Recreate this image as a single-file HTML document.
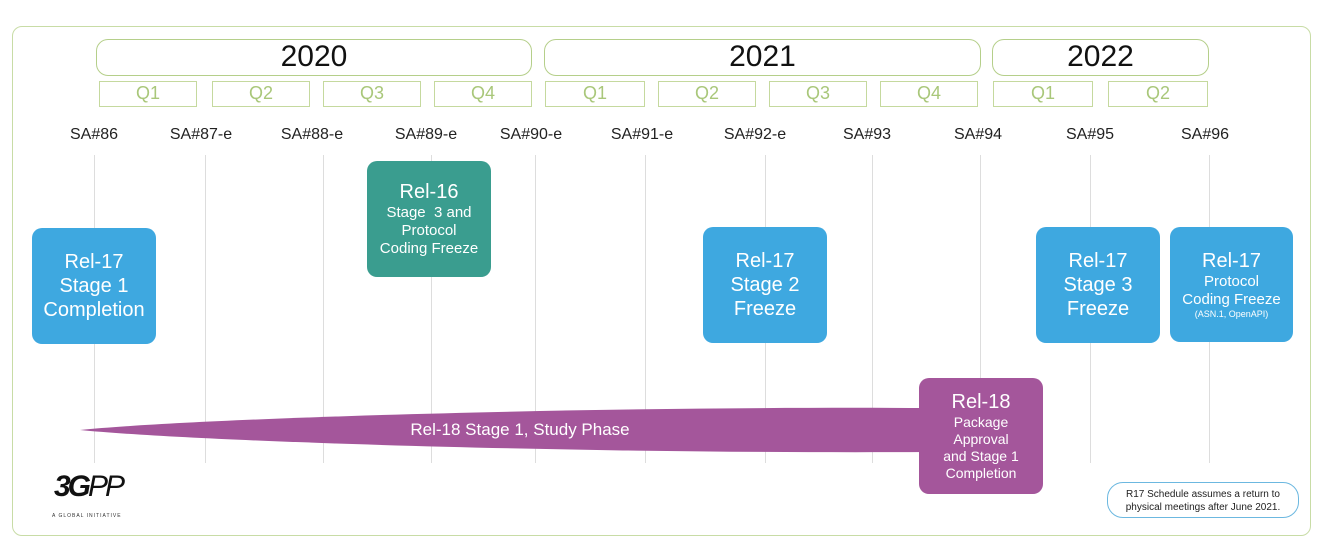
<!DOCTYPE html>
<html><head><style>
body{margin:0;width:1326px;height:554px;background:#fff;font-family:"Liberation Sans",sans-serif;position:relative;overflow:hidden}
.a{position:absolute;box-sizing:border-box}
.yr{border:1.5px solid #b5cf8a;border-radius:12px;text-align:center;font-size:30px;color:#111;line-height:34px}
.q{border:1.5px solid #c5d99e;text-align:center;font-size:18px;color:#a9c77a;line-height:23px}
.sa{font-size:16px;color:#222;width:100px;text-align:center;top:126px}
.vl{width:1px;background:#ddd;top:155px;height:308px}
.bx{border-radius:10px;color:#fff;text-align:center;display:flex;flex-direction:column;justify-content:center;line-height:1.2}
.blue{background:#3ea8e0}
</style></head><body>
<div class="a" style="left:12px;top:26px;width:1299px;height:510px;border:1.5px solid #c8dca6;border-radius:10px"></div>
<div class="a yr" style="left:96px;top:39px;width:436px;height:37px">2020</div>
<div class="a yr" style="left:544px;top:39px;width:437px;height:37px">2021</div>
<div class="a yr" style="left:992px;top:39px;width:217px;height:37px">2022</div>
<div class="a q" style="left:99px;top:81px;width:98px;height:26px">Q1</div>
<div class="a q" style="left:212px;top:81px;width:98px;height:26px">Q2</div>
<div class="a q" style="left:323px;top:81px;width:98px;height:26px">Q3</div>
<div class="a q" style="left:434px;top:81px;width:98px;height:26px">Q4</div>
<div class="a q" style="left:545px;top:81px;width:100px;height:26px">Q1</div>
<div class="a q" style="left:658px;top:81px;width:98px;height:26px">Q2</div>
<div class="a q" style="left:769px;top:81px;width:98px;height:26px">Q3</div>
<div class="a q" style="left:880px;top:81px;width:98px;height:26px">Q4</div>
<div class="a q" style="left:993px;top:81px;width:100px;height:26px">Q1</div>
<div class="a q" style="left:1108px;top:81px;width:100px;height:26px">Q2</div>
<div class="a sa" style="left:44px">SA#86</div>
<div class="a sa" style="left:151px">SA#87-e</div>
<div class="a sa" style="left:262px">SA#88-e</div>
<div class="a sa" style="left:376px">SA#89-e</div>
<div class="a sa" style="left:481px">SA#90-e</div>
<div class="a sa" style="left:592px">SA#91-e</div>
<div class="a sa" style="left:705px">SA#92-e</div>
<div class="a sa" style="left:817px">SA#93</div>
<div class="a sa" style="left:928px">SA#94</div>
<div class="a sa" style="left:1040px">SA#95</div>
<div class="a sa" style="left:1155px">SA#96</div>
<div class="a vl" style="left:94px"></div><div class="a vl" style="left:205px"></div><div class="a vl" style="left:323px"></div><div class="a vl" style="left:431px"></div><div class="a vl" style="left:535px"></div><div class="a vl" style="left:645px"></div><div class="a vl" style="left:765px"></div><div class="a vl" style="left:872px"></div><div class="a vl" style="left:980px"></div><div class="a vl" style="left:1090px"></div><div class="a vl" style="left:1209px"></div>
<svg class="a" style="left:0;top:0" width="1326" height="554"><path d="M80,430 C200,418 600,406 930,408 L930,452 C600,454 200,442 80,430 Z" fill="#a4569b"/></svg>
<div class="a" style="left:380px;top:420px;width:280px;text-align:center;color:#fff;font-size:17px">Rel-18 Stage 1, Study Phase</div>
<div class="a bx blue" style="left:32px;top:228px;width:124px;height:116px;font-size:20px">Rel-17<br>Stage 1<br>Completion</div>
<div class="a bx" style="left:367px;top:161px;width:124px;height:116px;background:#3a9d8f;font-size:15px"><span style="font-size:20px">Rel-16</span>Stage&nbsp; 3 and<br>Protocol<br>Coding Freeze</div>
<div class="a bx blue" style="left:703px;top:227px;width:124px;height:116px;font-size:20px">Rel-17<br>Stage 2<br>Freeze</div>
<div class="a bx blue" style="left:1036px;top:227px;width:124px;height:116px;font-size:20px">Rel-17<br>Stage 3<br>Freeze</div>
<div class="a bx blue" style="left:1170px;top:227px;width:123px;height:115px;font-size:15px"><span style="font-size:20px">Rel-17</span>Protocol<br>Coding Freeze<span style="font-size:9px">(ASN.1, OpenAPI)</span></div>
<div class="a bx" style="left:919px;top:378px;width:124px;height:116px;background:#a4569b;font-size:14px"><span style="font-size:20px">Rel-18</span>Package<br>Approval<br>and Stage 1<br>Completion</div>
<div class="a" style="left:1107px;top:482px;width:192px;height:36px;border:1.5px solid #6cb8e0;border-radius:16px;font-size:10px;text-align:center;padding-top:5px;line-height:13px;color:#222">R17 Schedule assumes a return to<br>physical meetings after June 2021.</div>
<div class="a" style="left:54px;top:470px;font-size:30px;font-weight:bold;font-style:italic;color:#111;letter-spacing:-3px">3G<span style="font-weight:normal">PP</span></div>
<div class="a" style="left:52px;top:513px;font-size:5px;color:#333;letter-spacing:1px">A GLOBAL INITIATIVE</div>
</body></html>
